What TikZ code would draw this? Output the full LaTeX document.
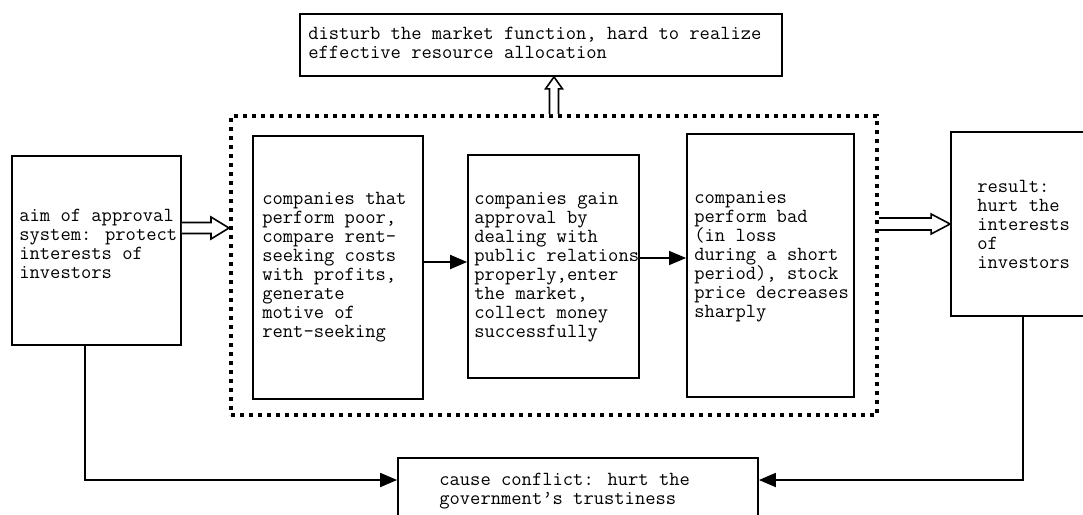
\documentclass[tikz,border=0pt]{standalone}
\usepackage{fontspec}
\usetikzlibrary{arrows.meta,calc}

\tikzset{
  box/.style={draw, line width=1.8pt, rectangle, inner sep=0pt},
  txt/.style={inner sep=0pt, anchor=west, align=left,
              font=\ttfamily\fontsize{20}{19}\selectfont},
  grpbox/.style={draw, line width=4pt, dash pattern=on 4pt off 5pt, inner sep=0pt},
  link/.style={line width=2pt, -{Triangle[length=17pt,width=14pt]}},
  hollow/.style={draw, line width=1.6pt, fill=white, line join=miter},
}

% outlined block arrow: start, end, half shaft width, half head width, head length
\newcommand\hollowarrow[5]{%
  \coordinate (ha-s) at (#1);
  \coordinate (ha-e) at (#2);
  \coordinate (ha-h) at ($(ha-e)!#5!(ha-s)$);
  \draw[hollow] ($(ha-s)!#3!90:(ha-e)$) -- ($(ha-h)!#3!-90:(ha-s)$)
    -- ($(ha-h)!#4!-90:(ha-s)$) -- (ha-e) -- ($(ha-h)!#4!90:(ha-s)$)
    -- ($(ha-h)!#3!90:(ha-s)$) -- ($(ha-s)!#3!-90:(ha-e)$);
}

\begin{document}
\begin{tikzpicture}[x=1pt,y=-1pt]
\useasboundingbox (0,0) rectangle (1083,514);
\clip (0,0) rectangle (1083,514);

% dotted frame around the three company stages
\node[grpbox, minimum width=646pt, minimum height=299pt] (grp) at (554,265.5) {};

% boxes
\node[box, minimum width=482pt, minimum height=62pt]  (top)  at (541,45) {};
\node[box, minimum width=169pt, minimum height=189pt] (aim)  at (96.5,250.5) {};
\node[box, minimum width=170pt, minimum height=263pt] (b1)   at (338,267.5) {};
\node[box, minimum width=171pt, minimum height=223pt] (b2)   at (553.5,266.5) {};
\node[box, minimum width=167pt, minimum height=263pt] (b3)   at (770.5,265.5) {};
\node[box, minimum width=144pt, minimum height=184pt] (res)  at (1023,224) {};
\node[box, minimum width=360pt, minimum height=72pt]  (conf) at (578,494) {};

% texts
\node[txt] (ttop) at ([xshift=9pt,yshift=2pt]top.west)
  {disturb the market function, hard to realize\\effective resource allocation};
\node[txt] (taim) at ([xshift=8pt,yshift=6.5pt]aim.west)
  {aim of approval\\system: protect\\interests of\\investors};
\node[txt] (tb1) at ([xshift=10pt]b1.west)
  {companies that\\perform poor,\\compare rent-\\seeking costs\\with profits,\\generate\\motive of\\rent-seeking};
\node[txt] (tb2) at ([xshift=7pt,yshift=-1pt]b2.west)
  {companies gain\\approval by\\dealing with\\public relations\\properly,enter\\the market,\\collect money\\successfully};
\node[txt] (tb3) at ([xshift=8pt,yshift=9pt]b3.west)
  {companies\\perform bad\\(in loss\\during a short\\period), stock\\price decreases\\sharply};
\node[txt] (tres) at ([xshift=27pt]res.west)
  {result:\\hurt the\\interests\\of\\investors};
\node[txt] (tconf) at ([xshift=42pt,yshift=2.5pt]conf.west)
  {cause conflict: hurt the\\government’s trustiness};

% arrows between the stages
\coordinate (a12) at ([yshift=5.5pt]b1.east);
\draw[link] (a12) -- (a12 -| b2.west);
\coordinate (a23) at ([yshift=8.5pt]b2.east);
\draw[link, line width=1.2pt] (a23) -- (a23 -| b3.west);

% arrows into the conflict box
\draw[link] ([xshift=-12pt]aim.south) |- ([yshift=14pt]conf.west);
\draw[link] (res.south) |- ([yshift=14pt]conf.east);

% block arrows
\coordinate (h1) at ([yshift=22.5pt]aim.east);
\hollowarrow{h1}{h1 -| grp.west}{5.5pt}{11pt}{18pt}
\hollowarrow{grp.east |- res.west}{res.west}{6pt}{10pt}{19pt}
\hollowarrow{grp.north}{grp.north |- top.south}{4.5pt}{8.5pt}{12pt}
\end{tikzpicture}
\end{document}
